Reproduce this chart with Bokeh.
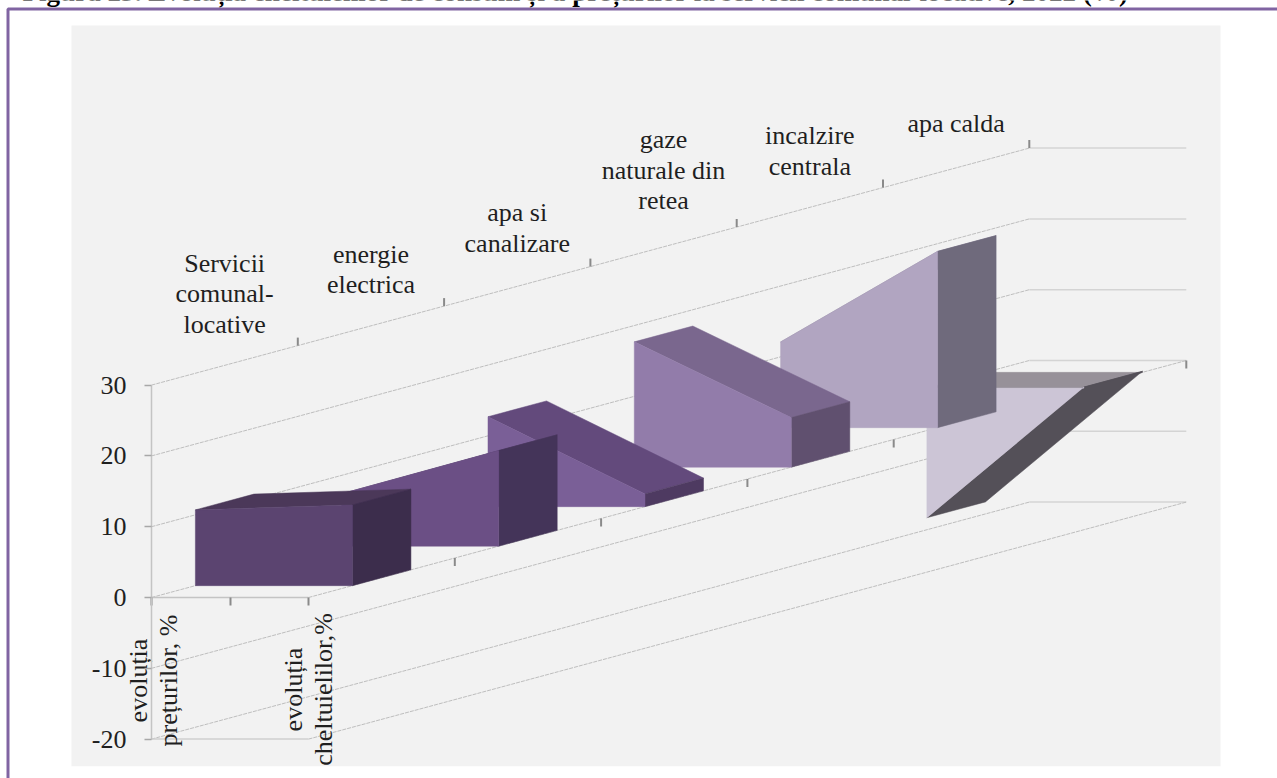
import math
from bokeh.core.properties import value
from bokeh.embed import file_html
from bokeh.models import ColumnDataSource, FixedTicker, Range1d
from bokeh.plotting import figure
from bokeh.resources import INLINE

# ---------- data ----------
title_text = "Figura 23. Evoluția cheltuielilor de consum și a prețurilor la servicii comunal-locative, 2022 (%)"
categories = ["Servicii\ncomunal-\nlocative", "energie\nelectrica", "apa si\ncanalizare",
              "gaze\nnaturale din\nretea", "incalzire\ncentrala", "apa calda"]
series_names = ["evoluția\nprețurilor, %", "evoluția\ncheltuielilor,%"]
evolutia_preturilor = [10.7, 7.4, 12.7, 17.7, 12.1, -18.3]
evolutia_cheltuielilor = [11.4, 13.5, 1.8, 7.0, 24.9, 0.15]
value_ticks = [-20, -10, 0, 10, 20, 30]
value_labels = ["-20", "-10", "0", "10", "20", "30"]

# ---------- styling per ribbon: front, top, right ----------
front_colors = ["#5B4470", "#6B4F85", "#7A5F97", "#927CAA", "#B1A5C1", "#CCC5D6"]
top_colors = ["#4B3859", "#58426F", "#634A7C", "#7A678E", "#8F859C", "#545058"]
right_colors = ["#3C2D4C", "#443459", "#4E3A61", "#60506F", "#6F6A7C", "#545058"]
BASE_COLOR = "#979199"
LABEL_RAISE_PX = [0, 0, 2, 5, 0, 3]

# ---------- oblique projection ----------
PX_PER_UNIT = 7.08
ZERO_PX = 597.0
X0 = 151.0
SERIES_W = 157.0
DEPTH_DX = 146.3
DEPTH_DV = 39.5 / PX_PER_UNIT
W, H = 1277, 778
FONT = value("Liberation Serif")


def px(y):
    return (ZERO_PX - y) / PX_PER_UNIT


def proj(s, d, v):
    return X0 + s * SERIES_W + d * DEPTH_DX, v + d * DEPTH_DV


p = figure(width=W, height=H, x_range=Range1d(0, W), y_range=Range1d(px(H), px(0)),
           toolbar_location=None, output_backend="svg", min_border=0,
           background_fill_color="white", border_fill_color="white", outline_line_color=None)
p.grid.visible = False

# panel and frame
p.quad(left=71, right=1220, top=px(25), bottom=px(766), fill_color="#F2F2F2", line_color=None)
p.text([22], [px(6)], text=[title_text], text_font=FONT, text_font_style="bold",
       text_font_size="27.1px", text_baseline="bottom", text_color="#000000")
p.line([7.5, 7.5, W], [px(H), px(8.5), px(8.5)], line_color="#8064A2", line_width=3)

# gridlines on the walls
NC = len(categories)
for v in value_ticks:
    a, b, c = proj(0, 0, v), proj(0, NC, v), proj(1, NC, v)
    p.line([a[0], b[0]], [a[1], b[1]], line_color="#BEBEBE", line_width=1, line_dash="4 1")
    p.line([b[0], c[0]], [b[1], c[1]], line_color="#D4D4D4", line_width=1.5)
for v in (0, -20):
    a, b = proj(1, 0, v), proj(1, NC, v)
    p.line([a[0], b[0]], [a[1], b[1]], line_color="#BEBEBE", line_width=1, line_dash="4 1")
a, b = proj(0, 0, -20), proj(1, 0, -20)
p.line([a[0], b[0]], [a[1], b[1]], line_color="#CFCFCF", line_width=1.5)

# depth-axis ticks
tick_px = 8 / PX_PER_UNIT
x0s, y0s, x1s, y1s = [], [], [], []
for i in range(1, NC + 1):
    x, y = proj(0, i, value_ticks[-1])
    x0s.append(x); y0s.append(y); x1s.append(x); y1s.append(y + tick_px)
    x, y = proj(1, i, 0)
    x0s.append(x); y0s.append(y); x1s.append(x); y1s.append(y - tick_px)
p.segment(x0s, y0s, x1s, y1s, line_color="#8A8A8A", line_width=2)

# ribbons, back to front
xs, ys, cols = [], [], []


def face(points, color):
    xs.append([q[0] for q in points])
    ys.append([q[1] for q in points])
    cols.append(color)


for i in range(NC - 1, -1, -1):
    d0, d1 = i + 0.3, i + 0.7
    v0, v1 = evolutia_preturilor[i], evolutia_cheltuielilor[i]
    if min(v0, v1) < 0:
        face([proj(0, d0, 0), proj(0, d1, 0), proj(1, d1, 0), proj(1, d0, 0)], BASE_COLOR)
    face([proj(0, d0, v0), proj(0, d1, v0), proj(1, d1, v1), proj(1, d0, v1)], top_colors[i])
    face([proj(1, d0, 0), proj(1, d1, 0), proj(1, d1, v1), proj(1, d0, v1)], right_colors[i])
    face([proj(0, d0, 0), proj(1, d0, 0), proj(1, d0, v1), proj(0, d0, v0)], front_colors[i])
src = ColumnDataSource(dict(xs=xs, ys=ys, color=cols))
p.patches("xs", "ys", source=src, fill_color="color", line_color="color", line_width=0.5)

# category labels above the back wall
lx = [proj(0, i + 0.5, 0)[0] for i in range(NC)]
ly = [proj(0, i + 1, value_ticks[-1])[1] + (7 + LABEL_RAISE_PX[i]) / PX_PER_UNIT for i in range(NC)]
p.text(lx, ly, text=categories, text_font=FONT, text_font_size="26px", text_align="center",
       text_baseline="bottom", text_line_height=1.05, text_color="#1F1F1F")

# series labels, rotated
sx = [proj(0, 0, 0)[0] + 2, proj(1, 0, 0)[0]]
sy = [px(680), px(689)]
p.text(sx, sy, text=series_names, text_font=FONT, text_font_size="26px", text_align="center",
       text_baseline="middle", text_line_height=1.05, angle=math.pi / 2, text_color="#1F1F1F")

# clip the lower edge of the panel
p.quad(left=71, right=1220, top=px(766), bottom=px(H), fill_color="white", line_color=None)

# value axis pinned on the wall edge
ya = p.yaxis[0]
ya.fixed_location = X0
ya.ticker = FixedTicker(ticks=value_ticks)
ya.major_label_overrides = dict(zip(value_ticks, value_labels))
ya.bounds = (value_ticks[0], value_ticks[-1])
ya.axis_line_color = "#C4C4C4"
ya.axis_line_width = 1.5
ya.major_tick_line_color = "#A8A8A8"
ya.major_tick_line_width = 1.5
ya.major_tick_in = 0
ya.major_tick_out = 7
ya.minor_tick_line_color = None
ya.major_label_standoff = 18
ya.major_label_text_font = "Liberation Serif"
ya.major_label_text_font_size = "26px"
ya.major_label_text_color = "#1F1F1F"

# series axis pinned at zero
xa = p.xaxis[0]
xa.fixed_location = 0
x_ticks = [proj(s, 0, 0)[0] for s in (0, 0.5, 1)]
xa.ticker = FixedTicker(ticks=x_ticks)
xa.major_label_overrides = {t: "" for t in x_ticks}
xa.bounds = (x_ticks[0], x_ticks[-1])
xa.axis_line_color = "#C4C4C4"
xa.axis_line_width = 1.5
xa.major_tick_line_color = "#8A8A8A"
xa.major_tick_line_width = 2
xa.major_tick_in = 0
xa.major_tick_out = 8
xa.minor_tick_line_color = None

open("out.html", "w").write(file_html(p, INLINE))
